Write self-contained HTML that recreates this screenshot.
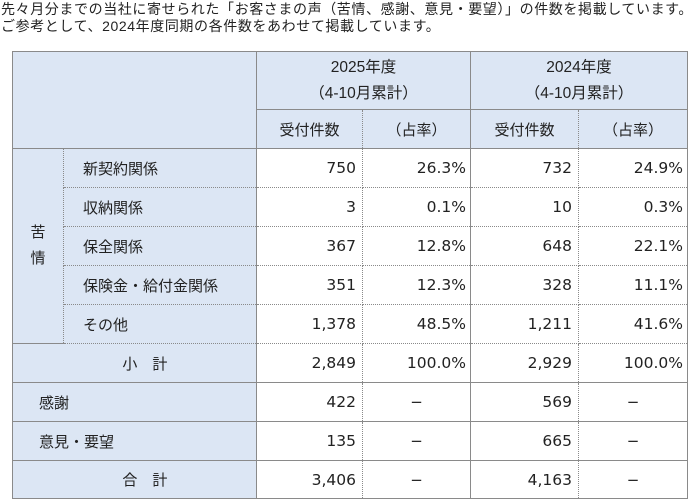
<!DOCTYPE html>
<html><head><meta charset="utf-8"><style>
body{margin:0;width:699px;height:503px;background:#fff;font-family:"Liberation Sans","Noto Sans CJK JP",sans-serif;color:#222;overflow:hidden}
.intro{position:absolute;left:1px;top:1px;font-size:14px;line-height:17px;white-space:nowrap;letter-spacing:0.6px}
table{position:absolute;left:12px;top:51px;border-collapse:collapse;table-layout:fixed;font-size:15px}
td{border:1px solid #8a8a8a;padding:0;height:38px;box-sizing:border-box;white-space:nowrap}
.h{background:#dce6f4;text-align:center}
.hy{font-size:15.5px}
.n{text-align:right;padding-right:6px;font-family:"DejaVu Sans","Noto Sans CJK JP",sans-serif;font-size:15.5px}
.p{text-align:right;padding-right:4px;font-family:"DejaVu Sans","Noto Sans CJK JP",sans-serif;font-size:15.5px}
.d{text-align:center;font-family:"DejaVu Sans",sans-serif}
.dr{border-right:1px dotted #8a8a8a}
.dl{border-left:1px dotted #8a8a8a}
.db{border-bottom:1px dotted #8a8a8a}
.dt{border-top:1px dotted #8a8a8a}
td.lbl{padding-left:19px;text-align:left}
td.lbl2{padding-left:26px;text-align:left}
</style></head><body>
<div class="intro">先々月分までの当社に寄せられた「お客さまの声（苦情、感謝、意見・要望）」の件数を掲載しています。<br>ご参考として、2024年度同期の各件数をあわせて掲載しています。</div>
<table>
<colgroup><col style="width:51px"><col style="width:193px"><col style="width:106px"><col style="width:108px"><col style="width:108px"><col style="width:109px"></colgroup>
<tr style="height:58px"><td class="h" colspan="2" rowspan="2"></td><td class="h hy" colspan="2" style="line-height:26px">2025年度<br>（4-10月累計）</td><td class="h hy" colspan="2" style="line-height:26px">2024年度<br>（4-10月累計）</td></tr>
<tr style="height:39px"><td class="h dr">受付件数</td><td class="h dl">（占率）</td><td class="h dr">受付件数</td><td class="h dl">（占率）</td></tr>
<tr style="height:39px"><td class="h" rowspan="5" style="border-right:1px dotted #8a8a8a;line-height:26px">苦<br>情</td><td class="h lbl db dl">新契約関係</td><td class="n db dr">750</td><td class="p db dl">26.3%</td><td class="n db dr">732</td><td class="p db dl">24.9%</td></tr>
<tr style="height:39px"><td class="h lbl db dt dl">収納関係</td><td class="n db dt dr">3</td><td class="p db dt dl">0.1%</td><td class="n db dt dr">10</td><td class="p db dt dl">0.3%</td></tr>
<tr style="height:39px"><td class="h lbl db dt dl">保全関係</td><td class="n db dt dr">367</td><td class="p db dt dl">12.8%</td><td class="n db dt dr">648</td><td class="p db dt dl">22.1%</td></tr>
<tr style="height:39px"><td class="h lbl db dt dl">保険金・給付金関係</td><td class="n db dt dr">351</td><td class="p db dt dl">12.3%</td><td class="n db dt dr">328</td><td class="p db dt dl">11.1%</td></tr>
<tr style="height:39px"><td class="h lbl db dt dl">その他</td><td class="n db dt dr">1,378</td><td class="p db dt dl">48.5%</td><td class="n db dt dr">1,211</td><td class="p db dt dl">41.6%</td></tr>
<tr style="height:39px"><td class="h" colspan="2" style="border-top:1px dotted #8a8a8a">&nbsp;&nbsp;&nbsp;&nbsp;&nbsp;小　計</td><td class="n dt dr">2,849</td><td class="p dt dl">100.0%</td><td class="n dt dr">2,929</td><td class="p dt dl">100.0%</td></tr>
<tr style="height:39px"><td class="h lbl2" colspan="2">感謝</td><td class="n dr">422</td><td class="d dl">−</td><td class="n dr">569</td><td class="d dl">−</td></tr>
<tr style="height:39px"><td class="h lbl2" colspan="2">意見・要望</td><td class="n dr">135</td><td class="d dl">−</td><td class="n dr">665</td><td class="d dl">−</td></tr>
<tr style="height:38px"><td class="h" colspan="2">&nbsp;&nbsp;&nbsp;&nbsp;&nbsp;合　計</td><td class="n dr">3,406</td><td class="d dl">−</td><td class="n dr">4,163</td><td class="d dl">−</td></tr>
</table>
</body></html>
